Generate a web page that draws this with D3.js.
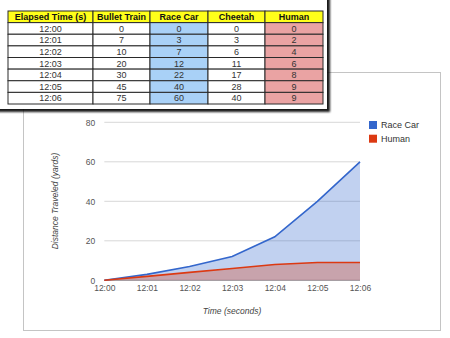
<!DOCTYPE html>
<html><head><meta charset="utf-8">
<script src="https://cdn.jsdelivr.net/npm/d3@7"></script>
<style>html,body{margin:0;padding:0;background:#fff;}svg{display:block;}</style>
</head><body>
<script>
const times = ["12:00","12:01","12:02","12:03","12:04","12:05","12:06"];
const bulletTrain = [0,7,10,20,30,45,75];
const raceCar = [0,3,7,12,22,40,60];
const cheetah = [0,3,6,11,17,28,40];
const human = [0,2,4,6,8,9,9];
const headers = ["Elapsed Time (s)","Bullet Train","Race Car","Cheetah","Human"];
const yTicks = [0,20,40,60,80];

const W=450,H=338;
const svg=d3.select("body").append("svg").attr("width",W).attr("height",H);
const font="Liberation Sans, Arial, sans-serif";

// ---- Chart panel ----
svg.append("rect").attr("x",23.5).attr("y",72.5).attr("width",417).attr("height",258)
  .attr("fill","#fff").attr("stroke","#c4c4c4");

const x=d3.scalePoint().domain(times).range([104.3,360]);
const y=d3.scaleLinear().domain([0,80]).range([280.3,122.3]);

const g=svg.append("g");
g.selectAll("line.grid").data(yTicks).join("line")
  .attr("x1",x.range()[0]).attr("x2",x.range()[1])
  .attr("y1",d=>y(d)).attr("y2",d=>y(d))
  .attr("stroke",d=>d===0?"#999":"#d8d8d8").attr("stroke-width",1);

const series=[{name:"Race Car",vals:raceCar,color:"#3366cc"},{name:"Human",vals:human,color:"#dc3912"}];
const area=d3.area().x((d,i)=>x(times[i])).y0(y(0)).y1(d=>y(d));
const line=d3.line().x((d,i)=>x(times[i])).y(d=>y(d));
series.forEach(s=>{
  g.append("path").attr("d",area(s.vals)).attr("fill",s.color).attr("fill-opacity",0.3);
});
series.forEach(s=>{
  g.append("path").attr("d",line(s.vals)).attr("fill","none").attr("stroke",s.color).attr("stroke-width",1.6);
});

const yAxis=d3.axisLeft(y).tickValues(yTicks).tickSize(0).tickPadding(9);
const ya=svg.append("g").attr("transform",`translate(${x.range()[0]},0)`).call(yAxis);
ya.select(".domain").remove();
ya.selectAll("text").attr("font-family",font).attr("font-size",8.5).attr("fill","#555");
const xAxis=d3.axisBottom(x).tickSize(0).tickPadding(5);
const xa=svg.append("g").attr("transform",`translate(0,${y(0)})`).call(xAxis);
xa.select(".domain").remove();
xa.selectAll("text").attr("font-family",font).attr("font-size",8.5).attr("fill","#555");

svg.append("text").attr("x",232).attr("y",314).attr("text-anchor","middle")
  .attr("font-family",font).attr("font-size",8.5).attr("font-style","italic").attr("fill","#444")
  .text("Time (seconds)");
svg.append("text").attr("transform","translate(58,201) rotate(-90)").attr("text-anchor","middle")
  .attr("font-family",font).attr("font-size",8.5).attr("font-style","italic").attr("fill","#444")
  .text("Distance Traveled (yards)");

const lg=svg.append("g");
series.forEach((s,i)=>{
  lg.append("rect").attr("x",369).attr("y",121+i*13.7).attr("width",8).attr("height",8).attr("fill",s.color);
  lg.append("text").attr("x",381).attr("y",128.3+i*13.7).attr("font-family",font).attr("font-size",9)
    .attr("fill","#333").text(s.name);
});

// ---- Table card ----
const defs=svg.append("defs");
const f=defs.append("filter").attr("id","sh").attr("x","-10%").attr("y","-10%").attr("width","130%").attr("height","140%");
f.append("feGaussianBlur").attr("in","SourceAlpha").attr("stdDeviation",1.3).attr("result","b");
f.append("feOffset").attr("in","b").attr("dx",3).attr("dy",3).attr("result","o");
f.append("feComponentTransfer").attr("in","o").attr("result","o2").append("feFuncA").attr("type","linear").attr("slope",0.9);
const fm=f.append("feMerge");
fm.append("feMergeNode").attr("in","o2");
fm.append("feMergeNode").attr("in","SourceGraphic");
svg.append("rect").attr("x",-10).attr("y",-10).attr("width",337).attr("height",119)
  .attr("fill","#fff").attr("filter","url(#sh)");

const colW=[85,57,58,57,58];
const colX=[8];colW.forEach((w,i)=>colX.push(colX[i]+w));
const rowY=d3.scaleLinear().domain([0,8]).range([11,104]);
const rows=times.map((t,i)=>[t,bulletTrain[i],raceCar[i],cheetah[i],human[i]]);
const colFill=["#fff","#fff","#a9d1f7","#fff","#eaa3a3"];
const tg=svg.append("g");
headers.forEach((h,j)=>{
  tg.append("rect").attr("x",colX[j]).attr("y",rowY(0)).attr("width",colW[j]).attr("height",rowY(1)-rowY(0))
    .attr("fill","#ffff1a").attr("stroke","#2a2a2a").attr("stroke-width",1);
  tg.append("text").attr("x",colX[j]+colW[j]/2).attr("y",(rowY(0)+rowY(1))/2+3.2).attr("text-anchor","middle")
    .attr("font-family",font).attr("font-size",9).attr("font-weight","bold").attr("fill","#111").text(h);
});
rows.forEach((r,i)=>{
  r.forEach((v,j)=>{
    tg.append("rect").attr("x",colX[j]).attr("y",rowY(i+1)).attr("width",colW[j]).attr("height",rowY(i+2)-rowY(i+1))
      .attr("fill",colFill[j]).attr("stroke","#2a2a2a").attr("stroke-width",1);
    tg.append("text").attr("x",colX[j]+colW[j]/2).attr("y",(rowY(i+1)+rowY(i+2))/2+3.2).attr("text-anchor","middle")
      .attr("font-family",font).attr("font-size",9).attr("fill","#333").text(v);
  });
});
</script>
</body></html>
